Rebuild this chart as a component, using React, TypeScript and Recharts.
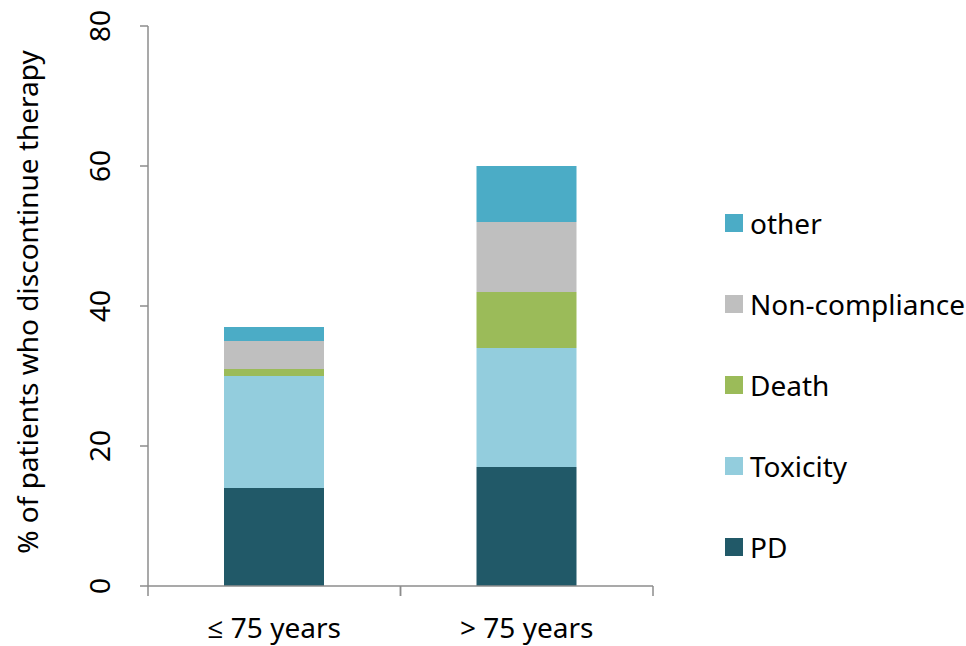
import { Bar, BarChart, XAxis, YAxis } from "recharts"

const categories = ["≤ 75 years", "> 75 years"]
const pd = [14, 17]
const toxicity = [16, 17]
const death = [1, 8]
const nonCompliance = [4, 10]
const other = [2, 8]
const yTicks = [0, 20, 40, 60, 80]

const series = [
  { key: "pd", name: "PD", color: "#215968", values: pd },
  { key: "toxicity", name: "Toxicity", color: "#93CDDD", values: toxicity },
  { key: "death", name: "Death", color: "#9BBB59", values: death },
  { key: "nonCompliance", name: "Non-compliance", color: "#BFBFBF", values: nonCompliance },
  { key: "other", name: "other", color: "#4BACC6", values: other },
]

const data = categories.map((cat, i) => {
  const row: Record<string, string | number> = { cat }
  series.forEach((s) => {
    row[s.key] = s.values[i]
  })
  return row
})

const W = 966
const H = 646
const LEFT = 148
const RIGHT = 313
const TOP = 26
const XH = 60
const band = (W - LEFT - RIGHT) / categories.length
const AXIS = "#8c8c8c"
const FONT = "'Noto Sans', 'Open Sans', sans-serif"
const FS = 28

const XTick = (props: any) => {
  const { x, y, payload } = props
  return (
    <g>
      <line x1={x - band / 2} x2={x - band / 2} y1={y - 8} y2={y + 2} stroke={AXIS} strokeWidth={1.5} />
      <line x1={x + band / 2} x2={x + band / 2} y1={y - 8} y2={y + 2} stroke={AXIS} strokeWidth={1.5} />
      <text x={x} y={y + 44} textAnchor="middle" fontSize={FS} fontFamily={FONT} fill="#000">
        {payload.value}
      </text>
    </g>
  )
}

const YTick = (props: any) => {
  const { y, payload } = props
  const tx = 99
  return (
    <text
      x={tx}
      y={y}
      transform={`rotate(-90, ${tx}, ${y})`}
      textAnchor="middle"
      dominantBaseline="central"
      fontSize={FS}
      fontFamily={FONT}
      fill="#000"
    >
      {payload.value}
    </text>
  )
}

const YLabel = (props: any) => {
  const vb = props.viewBox
  const x = 27
  const y = vb.y + vb.height / 2 - 4
  return (
    <text
      x={x}
      y={y}
      transform={`rotate(-90, ${x}, ${y})`}
      textAnchor="middle"
      dominantBaseline="central"
      fontSize={FS}
      fontFamily={FONT}
      fill="#000"
    >
      % of patients who discontinue therapy
    </text>
  )
}

const LegendBox = () => (
  <div style={{ position: "absolute", left: 725, top: 182, fontFamily: FONT, fontSize: FS, color: "#000" }}>
    {[...series].reverse().map((s) => (
      <div key={s.key} style={{ display: "flex", alignItems: "center", height: 81 }}>
        <span style={{ width: 18, height: 18, background: s.color, marginRight: 7, display: "inline-block" }} />
        <span>{s.name}</span>
      </div>
    ))}
  </div>
)

export default function App() {
  return (
    <div style={{ position: "absolute", left: 0, top: 0, width: W, height: H, background: "#fff" }}>
      <BarChart width={W} height={H} data={data} margin={{ top: TOP, right: RIGHT, bottom: 0, left: 0 }}>
        <XAxis
          dataKey="cat"
          height={XH}
          stroke={AXIS}
          strokeWidth={1.5}
          tickLine={false}
          tick={<XTick />}
          interval={0}
        />
        <YAxis
          width={LEFT}
          domain={[0, 80]}
          ticks={yTicks}
          stroke={AXIS}
          strokeWidth={1.5}
          tickSize={8}
          tick={<YTick />}
          label={{ content: <YLabel /> }}
        />
        {series.map((s) => (
          <Bar key={s.key} dataKey={s.key} name={s.name} stackId="a" fill={s.color} barSize={100} isAnimationActive={false} />
        ))}
      </BarChart>
      <LegendBox />
    </div>
  )
}
